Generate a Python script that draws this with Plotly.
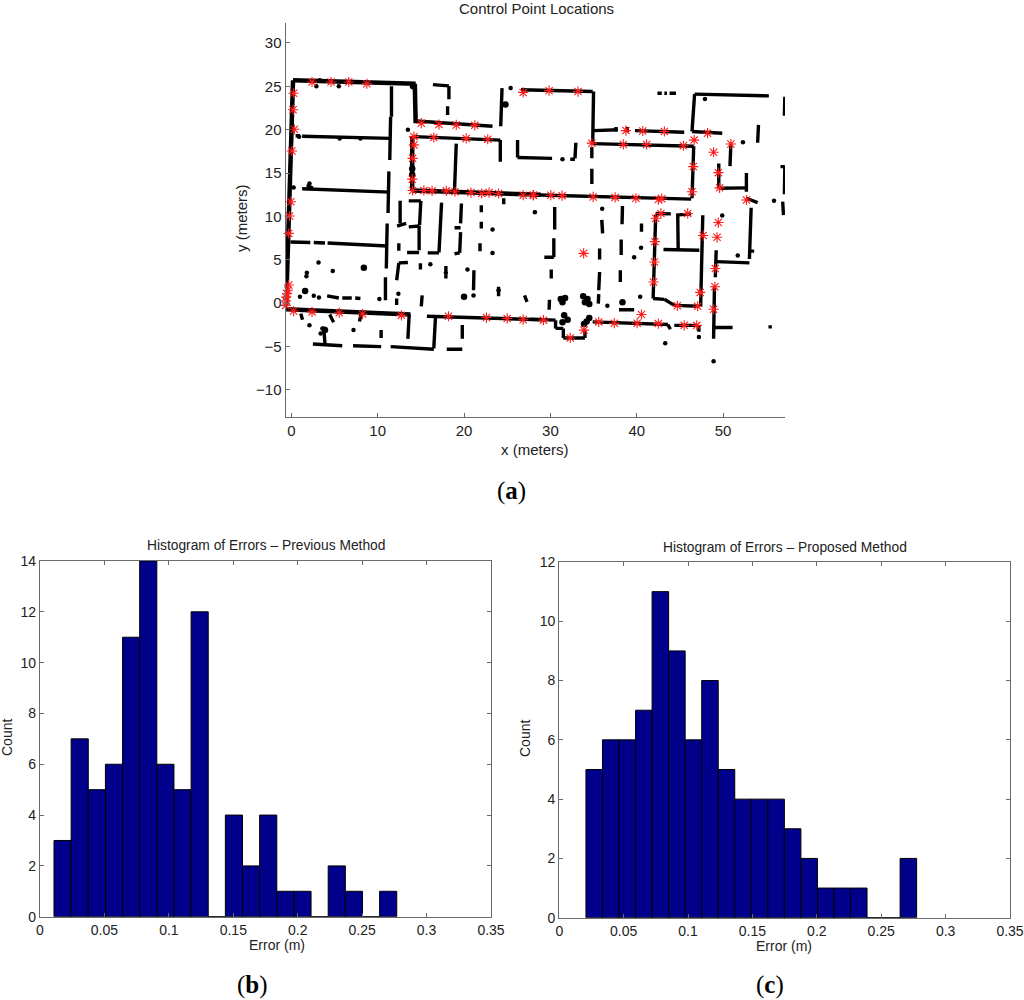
import plotly.graph_objects as go

W, H = 1024, 1000

# Floor-plan map (metres): wall segments as (x1, y1, x2, y2)
thick_walls = [
    (0.2, 25.7, 14.4, 25.3), (0.2, 25.7, -0.6, -0.2), (14.3, 25.3, 14.4, 20.75),
    (-0.6, -0.7, 13.8, -1.3), (14.0, 19.2, 14.0, 13.0), (14.0, 13.0, 28.9, 12.5),
]
thin_walls = [
    (11.6, 25.0, 11.6, 21.5), (11.5, 21.5, 11.4, 16.5), (11.3, 15.2, 11.2, 10.4),
    (11.1, 9.2, 11.0, 4.0), (10.9, 3.0, 10.9, 0.35),
    (0.5, 19.3, 1.0, 19.3), (1.25, 19.25, 11.5, 19.0), (1.25, 13.2, 11.4, 12.8),
    (-0.1, 7.05, 2.2, 7.0), (2.6, 7.0, 3.9, 6.95), (4.2, 6.95, 11.1, 6.6),
    (14.5, 21.0, 23.3, 20.4), (14.2, 19.2, 24.2, 18.8), (24.2, 18.8, 24.2, 16.3),
    (19.1, 18.4, 18.9, 13.0),
    (13.65, -1.3, 13.5, -4.1), (15.7, -1.5, 28.9, -1.9), (16.7, -1.5, 16.5, -5.2),
    (11.5, -5.0, 16.5, -5.3), (2.5, -4.7, 5.9, -4.9), (7.15, -4.9, 10.4, -5.0),
    (18.0, -5.3, 19.8, -5.3), (19.8, -2.5, 19.8, -4.1), (3.75, -2.7, 3.9, -4.7),
    (1.1, -1.2, 1.3, -1.9), (4.45, -1.3, 4.9, -2.2), (8.05, -1.3, 7.9, -2.1),
    (10.4, -3.1, 10.4, -4.0),
    (16.4, 25.2, 18.25, 25.05), (18.25, 25.05, 18.25, 23.5), (18.1, 22.7, 18.1, 21.7),
    (24.4, 24.8, 24.25, 20.4), (26.6, 24.6, 34.9, 24.4),
    (26.2, 18.8, 26.2, 16.8), (26.2, 16.8, 30.2, 16.7),
    (12.6, 11.8, 12.6, 9.2), (12.25, 8.9, 13.3, 9.2), (13.6, 11.8, 15.0, 11.8),
    (15.0, 11.8, 14.85, 9.0), (13.6, 8.8, 14.85, 8.9), (14.8, 8.9, 14.8, 6.1),
    (13.4, 5.85, 14.8, 5.85), (17.4, 11.6, 17.1, 5.85), (15.8, 5.8, 17.1, 5.8),
    (19.7, 11.5, 19.6, 9.2), (18.9, 8.7, 19.6, 8.7), (19.6, 8.2, 19.5, 5.8),
    (18.9, 5.7, 19.5, 5.8), (22.0, 11.3, 22.0, 10.5), (22.0, 9.4, 22.0, 8.6),
    (21.85, 6.9, 21.85, 6.0), (12.45, 6.9, 12.45, 6.05), (12.45, 4.65, 12.2, 2.65),
    (12.45, 4.65, 13.5, 4.7), (14.95, 4.6, 14.95, 3.9), (17.9, 4.3, 17.9, 3.7),
    (17.9, 3.3, 17.9, 2.85), (21.15, 3.8, 21.1, 1.5), (12.2, 0.55, 12.2, -0.2),
    (15.15, 0.9, 15.05, -0.35), (24.0, 1.9, 24.0, 0.8), (27.0, 0.9, 27.3, 0.15),
    (24.6, 12.1, 24.6, 11.4), (28.2, 10.7, 28.2, 10.35),
    (4.15, 0.85, 5.5, 0.6), (5.9, 0.6, 7.0, 0.6), (7.4, 0.6, 8.0, 0.55),
    (35.0, 24.4, 34.9, 18.4), (35.0, 19.9, 37.8, 20.0), (37.6, 20.3, 37.6, 19.8),
    (38.9, 20.3, 38.9, 19.7), (39.8, 19.9, 45.5, 19.7), (34.9, 18.4, 46.6, 18.1),
    (46.6, 18.1, 46.4, 12.1), (27.7, 12.5, 46.3, 12.0), (34.8, 18.0, 34.8, 16.7),
    (34.8, 15.5, 34.8, 13.75), (32.95, 18.5, 32.85, 16.7), (32.3, 16.6, 32.85, 16.6),
    (42.4, 24.2, 42.9, 24.2), (43.2, 24.2, 43.5, 24.2), (43.8, 24.2, 44.55, 24.2),
    (46.7, 24.1, 55.3, 23.9), (46.7, 24.1, 46.4, 19.8), (46.4, 19.8, 49.9, 19.6),
    (57.15, 23.8, 57.1, 21.6), (54.1, 20.55, 54.0, 18.5), (50.9, 18.4, 50.8, 15.8),
    (49.5, 16.1, 49.5, 13.25), (49.5, 13.25, 52.7, 13.3), (52.7, 15.0, 52.7, 12.85),
    (56.65, 15.75, 57.15, 15.75), (57.15, 15.75, 57.1, 12.55), (52.7, 12.1, 54.0, 11.6),
    (56.9, 11.7, 57.0, 10.15), (53.25, 11.0, 53.05, 5.1), (53.05, 6.0, 53.6, 6.0),
    (49.2, 4.8, 53.05, 4.65), (49.2, 6.1, 49.1, 3.0), (42.2, 10.2, 41.9, 0.55),
    (42.2, 10.35, 43.95, 10.3), (41.9, 0.55, 43.2, 0.45), (43.2, 0.45, 44.35, -0.25),
    (44.35, -0.25, 47.25, -0.35), (47.65, 10.15, 47.4, -0.35), (44.55, 10.15, 46.3, 10.3),
    (44.75, 10.15, 44.8, 6.2), (43.1, 6.2, 47.25, 6.1), (49.0, 1.9, 48.9, -4.1),
    (49.0, -2.8, 51.1, -2.8), (27.7, -1.85, 30.6, -1.95), (30.6, -1.95, 30.6, -2.9),
    (30.6, -2.9, 31.5, -2.9), (31.5, -2.9, 31.5, -4.0), (31.5, -4.0, 34.0, -4.0),
    (34.0, -4.0, 34.0, -3.1), (34.9, -2.15, 43.6, -2.45), (43.6, -2.45, 43.9, -3.0),
    (44.35, -2.55, 47.0, -2.55), (47.2, -2.55, 47.2, -3.3), (55.45, -2.55, 55.45, -2.9),
    (30.5, 11.1, 30.5, 8.5), (30.4, 7.5, 30.4, 5.3), (29.3, 5.3, 30.4, 5.3),
    (30.1, 3.9, 30.1, 2.85), (29.9, 0.4, 29.85, -0.75), (35.95, 9.6, 36.05, 8.05),
    (35.7, 6.3, 35.7, 5.05), (35.7, 3.6, 35.6, 1.5), (35.6, 1.05, 35.55, -0.05),
    (38.35, 11.2, 38.3, 9.1), (38.2, 7.35, 38.2, 5.55), (38.1, 3.8, 38.1, 2.45),
    (40.55, 9.2, 40.55, 8.25), (37.95, -0.75, 39.7, -0.75),
]
dot_x = [4.8, 1.0, 2.6, 3.2, 10.2, 12.4, 16.1, 20.4, 21.1, 23.3, 23.3, 2.1, 7.2, 0.27,
         13.5, 25.4, 47.2, 43.3, 48.9, 31.4, 52.3, 47.9, 55.9, 51.7, 49.9, 36.0, 40.5,
         39.7, 40.4, 36.6, 28.2, 17.9, 24.0, 2.9, 3.3, 5.5, 0.9, 5.6, 8.0, 3.15, 1.8,
         1.75, 2.1, 2.3, 2.0, 3.4, 3.6]
dot_y = [3.7, 0.75, 0.85, 0.65, 0.5, 1.1, 4.5, 3.9, 0.9, 8.5, 5.8, -2.55, -3.1, 13.35,
         20.0, 24.8, -3.9, -4.6, -6.7, 16.6, 18.55, 23.55, 11.8, 5.5, 10.1, 10.9, 6.4,
         5.3, 0.75, -0.3, 10.5, 3.5, 1.5, 25.0, 25.7, 25.0, 19.2, 19.0, 19.0, 4.7, 3.5,
         3.1, 13.8, 13.3, 13.5, -3.5, -2.9]
blob_x = [8.4, 1.6, 20.0, 3.9, 24.8, 38.35, 31.2, 31.7, 31.4, 33.8, 34.3, 34.0, 34.5,
          31.6, 32.0, 31.4, 33.9, 34.5, 34.2, 14.0, 14.0, 14.1]
blob_y = [4.1, 1.4, 0.75, -3.1, 22.9, 0.1, 0.5, 0.6, 0.1, 0.8, 0.5, 0.1, -0.1,
          -1.4, -1.9, -2.2, -2.4, -1.7, -2.1, 15.5, 14.8, 25.0]

# Control points (metres)
control_x = [2.4, 4.6, 6.65, 8.75, 0.27, 0.2, 0.35, 0.07, -0.05, -0.2, -0.3, -0.3, -0.4,
             -0.5, -0.6, -0.6, -0.65, 0.27, 2.4, 5.55, 8.25, 12.75, 18.2, 22.6, 25.0,
             26.85, 15.05, 17.1, 19.1, 21.25, 14.2, 16.5, 20.25, 22.75, 14.2, 14.05,
             14.0, 14.05, 15.35, 16.3, 17.95, 18.95, 20.8, 22.05, 22.9, 24.0, 26.85,
             28.0, 26.85, 29.85, 33.2, 34.8, 38.45, 41.15, 45.4, 38.75, 40.7, 43.2,
             48.2, 46.65, 48.9, 50.9, 49.45, 49.6, 52.7, 46.55, 46.4, 28.05, 30.05,
             31.35, 34.95, 37.5, 39.9, 42.5, 42.9, 42.2, 42.8, 45.9, 47.7, 49.45, 49.3,
             42.1, 42.05, 41.95, 49.1, 49.05, 48.9, 47.35, 47.05, 44.7, 33.85, 40.55,
             29.2, 32.3, 33.9, 35.6, 37.4, 40.05, 42.5, 45.5, 46.95]
control_y = [25.5, 25.5, 25.5, 25.3, 24.2, 22.3, 20.05, 17.55, 11.7, 10.05, 8.05, 2.1, 1.5,
             1.1, 0.7, 0.25, -0.25, -0.9, -1.0, -1.1, -1.25, -1.4, -1.5, -1.65, -1.75,
             -1.9, 20.75, 20.6, 20.55, 20.5, 19.2, 19.1, 19.0, 18.9, 18.25, 16.7, 14.3,
             13.0, 13.0, 12.95, 12.95, 12.85, 12.75, 12.65, 12.75, 12.65, 12.45, 12.45,
             24.3, 24.5, 24.4, 18.45, 18.3, 18.3, 18.15, 19.9, 19.85, 19.8, 19.6, 18.8,
             17.4, 18.35, 15.05, 13.3, 11.9, 15.75, 12.85, 12.45, 12.45, 12.4, 12.25,
             12.2, 12.1, 11.95, 12.05, 9.8, 10.35, 10.35, 7.8, 9.3, 7.6, 7.1, 4.75, 2.45,
             4.0, 1.9, -0.7, 1.25, -0.35, -0.3, 5.75, -1.3, -1.95, -4.0, -3.1, -2.15,
             -2.3, -2.3, -2.35, -2.55, -2.55]

# Histograms: 20 equal bins
prev_start, prev_width = 0.01086, 0.0133
prev_counts = [3, 7, 5, 6, 11, 14, 6, 5, 12, 0, 4, 2, 4, 1, 1, 0, 2, 1, 0, 1]
prop_start, prop_width = 0.0207, 0.01284
prop_counts = [5, 6, 6, 7, 11, 9, 6, 8, 5, 4, 4, 4, 3, 2, 1, 1, 1, 0, 0, 2]
err_ticks = [0, 0.05, 0.1, 0.15, 0.2, 0.25, 0.3, 0.35]
err_labels = ["0", "0.05", "0.1", "0.15", "0.2", "0.25", "0.3", "0.35"]
prev_count_ticks = [0, 2, 4, 6, 8, 10, 12, 14]
prop_count_ticks = [0, 2, 4, 6, 8, 10, 12]
map_x_ticks = [0, 10, 20, 30, 40, 50]
map_y_ticks = [-10, -5, 0, 5, 10, 15, 20, 25, 30]


def seg_xy(segments):
    xs, ys = [], []
    for x1, y1, x2, y2 in segments:
        xs += [x1, x2, None]
        ys += [y1, y2, None]
    return xs, ys


def fx(p):
    return p / W


def fy(p):
    return 1 - p / H


AX = "#6a6a6a"
TXT = "#222222"
SANS = "Liberation Sans, Arial, sans-serif"

fig = go.Figure()
tx, ty = seg_xy(thick_walls)
fig.add_trace(go.Scatter(x=tx, y=ty, mode="lines", cliponaxis=False,
                         line=dict(color="black", width=4.5),
                         xaxis="x", yaxis="y", showlegend=False))
nx, ny = seg_xy(thin_walls)
fig.add_trace(go.Scatter(x=nx, y=ny, mode="lines", cliponaxis=False,
                         line=dict(color="black", width=3.4),
                         xaxis="x", yaxis="y", showlegend=False))
fig.add_trace(go.Scatter(x=dot_x, y=dot_y, mode="markers", cliponaxis=False,
                         marker=dict(color="black", size=4.5), xaxis="x", yaxis="y", showlegend=False))
fig.add_trace(go.Scatter(x=blob_x, y=blob_y, mode="markers", cliponaxis=False,
                         marker=dict(color="black", size=6.5), xaxis="x", yaxis="y", showlegend=False))
fig.add_trace(go.Scatter(x=control_x, y=control_y, mode="markers", cliponaxis=False,
                         marker=dict(symbol="asterisk-open", color="#ff1a1a", size=8.5,
                                     line=dict(color="#ff1a1a", width=1.1)),
                         xaxis="x", yaxis="y", showlegend=False))

fig.add_trace(go.Bar(x=[prev_start + (i + 0.5) * prev_width for i in range(len(prev_counts))],
                     y=prev_counts, width=prev_width,
                     marker=dict(color="#00008b", line=dict(color="black", width=1)),
                     xaxis="x2", yaxis="y2", showlegend=False))
fig.add_trace(go.Bar(x=[prop_start + (i + 0.5) * prop_width for i in range(len(prop_counts))],
                     y=prop_counts, width=prop_width,
                     marker=dict(color="#00008b", line=dict(color="black", width=1)),
                     xaxis="x3", yaxis="y3", showlegend=False))

common = dict(showgrid=False, zeroline=False, showline=True, linecolor=AX, linewidth=1.3,
              ticks="inside", ticklen=4, tickcolor=AX, tickwidth=1, automargin=False)
hist_font = dict(family=SANS, size=14, color=TXT)
map_font = dict(family=SANS, size=15, color=TXT)

fig.update_layout(
    width=W, height=H, margin=dict(l=0, r=0, t=0, b=0), autosize=False,
    paper_bgcolor="white", plot_bgcolor="white", showlegend=False, barmode="overlay",
    xaxis=dict(common, domain=[fx(285.7), fx(785)], range=[-0.65, 57.17], anchor="y",
               tickvals=map_x_ticks, tickfont=map_font),
    yaxis=dict(common, domain=[fy(416.7), fy(23)], range=[-13.08, 32.3], anchor="x",
               tickvals=map_y_ticks, tickfont=map_font),
    xaxis2=dict(common, domain=[fx(40), fx(491)], range=[0, 0.35], anchor="y2", mirror="ticks",
                tickvals=err_ticks, ticktext=err_labels, tickfont=hist_font),
    yaxis2=dict(common, domain=[fy(916.7), fy(561)], range=[0, 14], anchor="x2", mirror="ticks",
                tickvals=prev_count_ticks, tickfont=hist_font),
    xaxis3=dict(common, domain=[fx(559.3), fx(1010)], range=[0, 0.35], anchor="y3", mirror="ticks",
                tickvals=err_ticks, ticktext=err_labels, tickfont=hist_font),
    yaxis3=dict(common, domain=[fy(917.7), fy(562)], range=[0, 12], anchor="x3", mirror="ticks",
                tickvals=prop_count_ticks, tickfont=hist_font),
)


def label(text, px, py, size=14, angle=0, family=SANS, color=TXT):
    fig.add_annotation(text=text, x=fx(px), y=fy(py), xref="paper", yref="paper",
                       xanchor="center", yanchor="middle", showarrow=False, textangle=angle,
                       font=dict(family=family, size=size, color=color))


label("Control Point Locations", 536, 8, size=15)
label("x (meters)", 535, 449, size=15)
label("y (meters)", 242, 218, size=15, angle=-90)
label("Histogram of Errors \u2013 Previous Method", 266, 545, size=13.8)
label("Error (m)", 277, 945)
label("Count", 7, 738, angle=-90)
label("Histogram of Errors \u2013 Proposed Method", 785, 547, size=13.8)
label("Error (m)", 784, 946)
label("Count", 525, 739, angle=-90)
SERIF = "Liberation Serif, Times New Roman, serif"
label("(<b>a</b>)", 511, 491, size=25, family=SERIF, color="black")
label("(<b>b</b>)", 252, 985, size=25, family=SERIF, color="black")
label("(<b>c</b>)", 770, 985, size=25, family=SERIF, color="black")

fig.write_html("out.html", config={"displayModeBar": False},
               post_script="document.body.style.margin='0';document.body.style.overflow='hidden';")
